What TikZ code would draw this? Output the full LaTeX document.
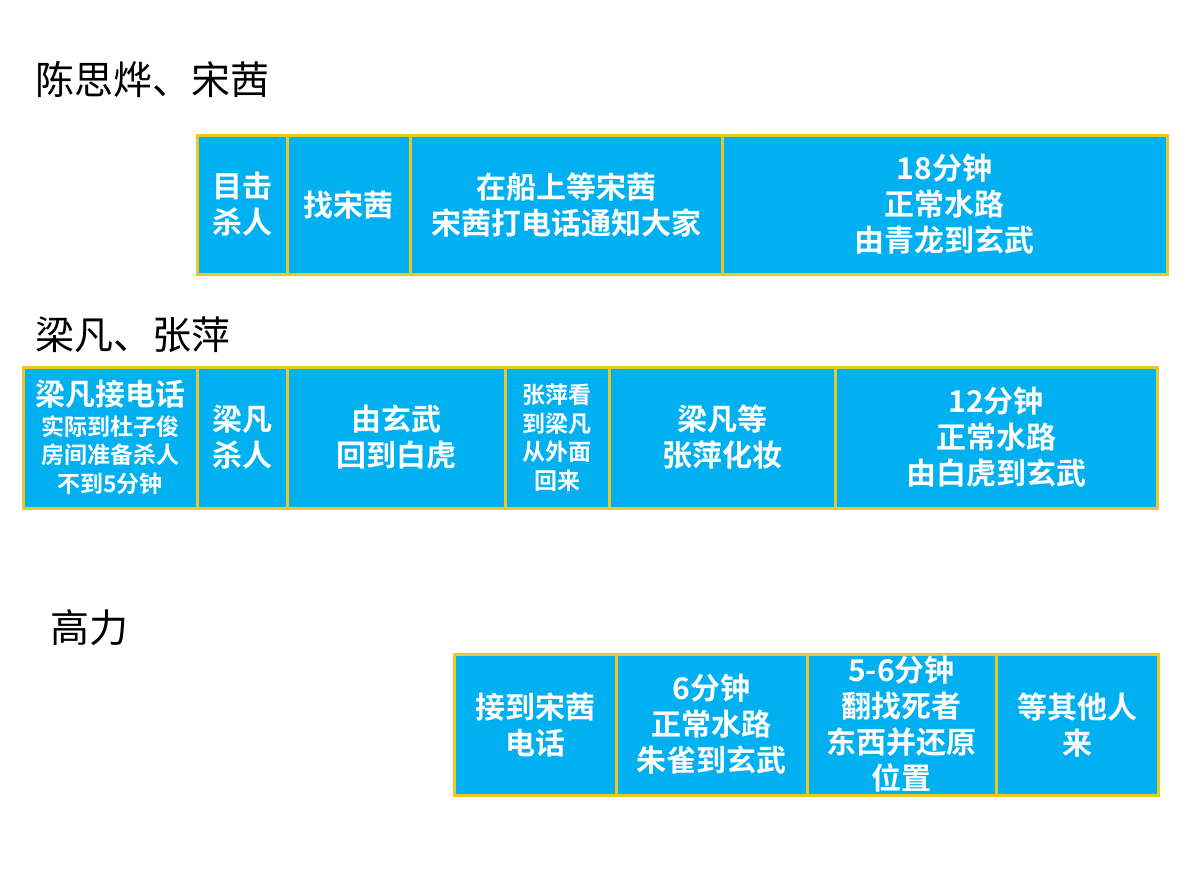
\documentclass[tikz,border=0pt]{standalone}
\usepackage{fontspec}
\newfontfamily\cjk{Noto Sans CJK SC}[BoldFont={Noto Sans CJK SC Bold}]
\definecolor{cellfill}{RGB}{0,176,240}
\definecolor{cellline}{RGB}{235,200,35}
\tikzset{
  cellbox/.style={draw=cellline, line width=3pt, fill=cellfill, inner sep=0pt,
    align=center, text=white, font=\cjk\bfseries\fontsize{30}{36}\selectfont},
  smallbox/.style={cellbox, font=\cjk\bfseries\fontsize{23}{28.5}\selectfont},
  titletext/.style={anchor=west, inner sep=0pt, font=\cjk\fontsize{39}{44}\selectfont}
}
% \cellnode{style}{name}{x1}{x2}{y1}{y2}{text}
\newcommand\cellnode[7]{%
  \node[#1, minimum width={(#4-#3)*1pt}, minimum height={(#6-#5)*1pt}] (#2) at ({(#3+#4)/2},{(#5+#6)/2}) {#7};}
\begin{document}
\begin{tikzpicture}[x=1pt,y=-1pt]
\useasboundingbox (0,0) rectangle (1190,870);
\fill[white] (0,0) rectangle (1190,870);
% titles
\node[titletext] (t1) at (35,80) {陈思烨、宋茜};
\node[titletext] (t2) at (35,335) {梁凡、张萍};
\node[titletext] (t3) at (50,628) {高力};
% row 1
\cellnode{cellbox}{a1}{197}{287}{135}{274}{目击\\杀人}
\cellnode{cellbox}{a2}{287}{410}{135}{274}{找宋茜}
\cellnode{cellbox}{a3}{410}{722}{135}{274}{在船上等宋茜\\宋茜打电话通知大家}
\cellnode{cellbox}{a4}{722}{1167}{135}{274}{18分钟\\正常水路\\由青龙到玄武}
% row 2
\cellnode{smallbox}{b1}{23}{197}{367}{508}{{\fontsize{30}{30}\selectfont 梁凡接电话}\\[1pt]实际到杜子俊\\房间准备杀人\\不到5分钟}
\cellnode{cellbox}{b2}{197}{287}{367}{508}{梁凡\\杀人}
\cellnode{cellbox}{b3}{287}{505}{367}{508}{由玄武\\回到白虎}
\cellnode{smallbox}{b4}{505}{609}{367}{508}{张萍看\\到梁凡\\从外面\\回来}
\cellnode{cellbox}{b5}{609}{835}{367}{508}{梁凡等\\张萍化妆}
\cellnode{cellbox}{b6}{835}{1157}{367}{508}{12分钟\\正常水路\\由白虎到玄武}
% row 3
\cellnode{cellbox}{c1}{454}{616}{654}{795}{接到宋茜\\电话}
\cellnode{cellbox}{c2}{616}{807}{654}{795}{6分钟\\正常水路\\朱雀到玄武}
\cellnode{cellbox}{c3}{807}{996}{654}{795}{5-6分钟\\翻找死者\\东西并还原\\位置}
\cellnode{cellbox}{c4}{996}{1158}{654}{795}{等其他人\\来}
\end{tikzpicture}
\end{document}
